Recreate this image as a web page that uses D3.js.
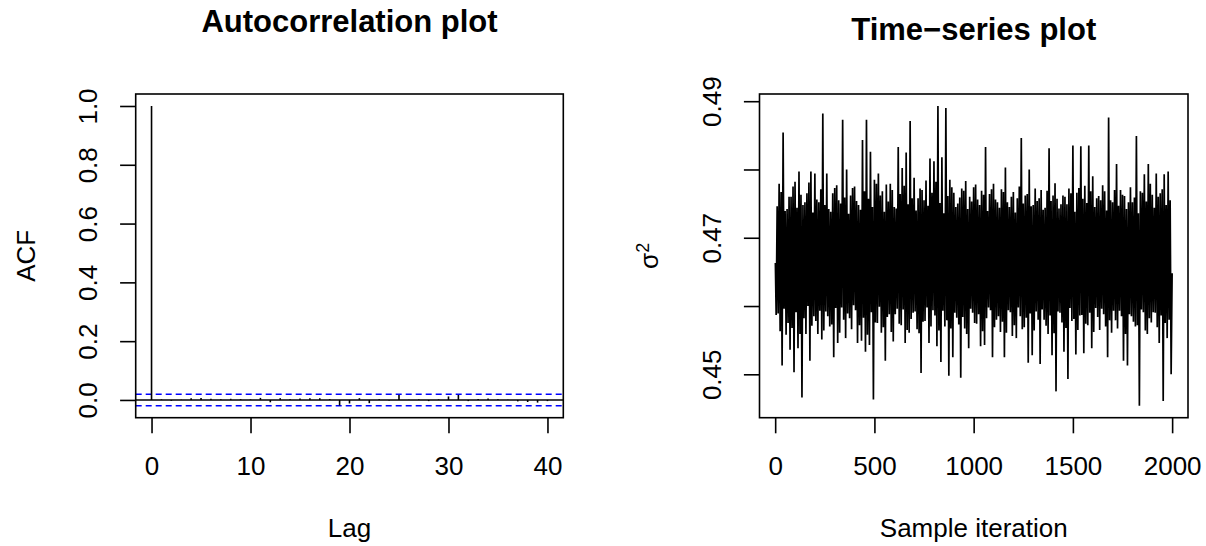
<!DOCTYPE html>
<html><head><meta charset="utf-8">
<script src="https://cdn.jsdelivr.net/npm/d3@7"></script>
<style>
body{margin:0;background:#fff}
svg{display:block;background:#fff}
text{font-family:"Liberation Sans",Arial,Helvetica,sans-serif;fill:#000}
</style>
</head><body>
<svg id="chart" width="1206" height="546"></svg>
<script>
// ---------------- data ----------------
const acfValues = [1.000,
  0.002,-0.003,0.001,0.006,0.007,0.004,0.002,0.004,0.003,0.002,
  0.007,-0.008,0.006,0.002,0.005,0.006,0.006,0.003,-0.019,-0.012,
  0.006,-0.011,0.002,-0.002,0.017,0.001,0.002,-0.004,0.002,0.012,
  0.017,-0.004,0.003,0.005,0.002,0.001,-0.005,-0.007,-0.009,-0.004];
const acfConfLimit = 0.0196;
const acfXTicks = [0, 10, 20, 30, 40];
const acfYTicks = [0, 0.2, 0.4, 0.6, 0.8, 1.0];
const acfYTickLabels = ["0.0", "0.2", "0.4", "0.6", "0.8", "1.0"];

// trace readings: turning points read every 10 iterations (spikes included)
const traceTurns = [
0.4663,0.4589,0.4779,0.4513,0.4854,0.4558,0.4742,0.4536,0.4760,0.4503,
0.4782,0.4538,0.4797,0.4466,0.4748,0.4559,0.4765,0.4520,0.4797,0.4585,
0.4794,0.4559,0.4752,0.4551,0.4882,0.4592,0.4794,0.4570,0.4738,0.4525,
0.4773,0.4546,0.4755,0.4598,0.4873,0.4553,0.4800,0.4582,0.4762,0.4601,
0.4775,0.4546,0.4748,0.4549,0.4843,0.4533,0.4873,0.4543,0.4826,0.4463,
0.4785,0.4575,0.4794,0.4561,0.4768,0.4520,0.4778,0.4588,0.4779,0.4548,
0.4745,0.4596,0.4833,0.4572,0.4802,0.4546,0.4825,0.4561,0.4871,0.4590,
0.4788,0.4566,0.4758,0.4502,0.4770,0.4578,0.4784,0.4546,0.4816,0.4594,
0.4812,0.4541,0.4893,0.4518,0.4818,0.4570,0.4890,0.4498,0.4785,0.4525,
0.4766,0.4583,0.4750,0.4495,0.4772,0.4567,0.4783,0.4538,0.4760,0.4590,
0.4774,0.4574,0.4756,0.4541,0.4769,0.4543,0.4833,0.4598,0.4764,0.4525,
0.4779,0.4580,0.4752,0.4562,0.4771,0.4525,0.4803,0.4594,0.4745,0.4556,
0.4767,0.4553,0.4758,0.4585,0.4846,0.4569,0.4762,0.4517,0.4800,0.4528,
0.4748,0.4592,0.4754,0.4515,0.4770,0.4580,0.4744,0.4559,0.4831,0.4528,
0.4762,0.4475,0.4757,0.4590,0.4749,0.4533,0.4760,0.4493,0.4772,0.4578,
0.4835,0.4529,0.4766,0.4586,0.4834,0.4531,0.4776,0.4572,0.4835,0.4538,
0.4790,0.4597,0.4758,0.4565,0.4755,0.4588,0.4768,0.4525,0.4876,0.4561,
0.4752,0.4579,0.4808,0.4593,0.4770,0.4520,0.4761,0.4513,0.4752,0.4585,
0.4752,0.4570,0.4849,0.4454,0.4768,0.4591,0.4793,0.4559,0.4808,0.4576,
0.4763,0.4590,0.4794,0.4546,0.4765,0.4461,0.4793,0.4553,0.4797,0.4500,
0.4648];
// in-band readings between turning points (lower side, then upper side)
const traceBandLo = [
0.4587,0.4563,0.4596,0.4575,0.4568,0.4591,0.4559,0.4582,0.4600,0.4571,
0.4578,0.4593,0.4564,0.4585,0.4573,0.4597,0.4561,0.4580,0.4589,0.4566,
0.4594,0.4572,0.4583,0.4558,0.4591,0.4576,0.4599,0.4569,0.4584,0.4562,
0.4588,0.4574,0.4595,0.4565,0.4581,0.4592,0.4560,0.4577,0.4598,0.4570,
0.4586,0.4564,0.4593,0.4579,0.4567,0.4590,0.4573,0.4584,0.4559,0.4596,
0.4575,0.4588,0.4563,0.4582,0.4594,0.4569,0.4585,0.4577,0.4561,0.4591,
0.4572,0.4598,0.4566,0.4583,0.4589,0.4564,0.4580,0.4595,0.4571,0.4586,
0.4560,0.4592,0.4576,0.4568,0.4597,0.4581,0.4565,0.4587,0.4574,0.4590,
0.4562,0.4584,0.4596,0.4570,0.4579,0.4593,0.4567,0.4585,0.4559,0.4588,
0.4577,0.4572,0.4595,0.4564,0.4582,0.4591,0.4569,0.4586,0.4575,0.4580];
const traceBandHi = [
0.4746,0.4767,0.4739,0.4760,0.4775,0.4744,0.4763,0.4752,0.4781,0.4737,
0.4756,0.4771,0.4748,0.4742,0.4765,0.4777,0.4750,0.4759,0.4735,0.4773,
0.4754,0.4741,0.4768,0.4757,0.4745,0.4779,0.4762,0.4738,0.4753,0.4770,
0.4743,0.4764,0.4776,0.4749,0.4758,0.4740,0.4772,0.4755,0.4747,0.4766,
0.4782,0.4751,0.4736,0.4761,0.4774,0.4745,0.4759,0.4769,0.4742,0.4753,
0.4778,0.4748,0.4763,0.4739,0.4771,0.4756,0.4744,0.4767,0.4752,0.4760,
0.4737,0.4775,0.4750,0.4764,0.4746,0.4772,0.4758,0.4741,0.4769,0.4754,
0.4780,0.4743,0.4762,0.4749,0.4765,0.4738,0.4773,0.4757,0.4751,0.4768,
0.4745,0.4761,0.4777,0.4740,0.4755,0.4770,0.4747,0.4763,0.4742,0.4774,
0.4759,0.4736,0.4766,0.4753,0.4779,0.4744,0.4760,0.4771,0.4748,0.4755];
const traceBlock = 20;  // iterations covered by one group of four readings
const tsXTicks = [0, 500, 1000, 1500, 2000];
const tsYTicks = [0.45, 0.46, 0.47, 0.48, 0.49];
const tsYTickLabels = ["0.45", "", "0.47", "", "0.49"];

const titles = ["Autocorrelation plot", "Time\u2212series plot"];
const xTitles = ["Lag", "Sample iteration"];

// ---------------- layout ----------------
const FS = 26, TFS = 31, LW = 1.6, TICK = 15.6;
const boxA = {l: 135.7, r: 563.3, t: 94, b: 417.7};
const boxB = {l: 759.5, r: 1188, t: 94, b: 417.7};

const svg = d3.select("#chart");
svg.append("rect").attr("width", 1206).attr("height", 546).attr("fill", "#fff");

function pad(ext) { const d = (ext[1] - ext[0]) * 0.04; return [ext[0] - d, ext[1] + d]; }

// ---------- panel A: ACF ----------
const lags = acfValues.map((v, i) => i);
const xA = d3.scaleLinear().domain(pad(d3.extent(lags))).range([boxA.l, boxA.r]);
const yA = d3.scaleLinear()
  .domain(pad([Math.min(-acfConfLimit, d3.min(acfValues)), Math.max(acfConfLimit, d3.max(acfValues))]))
  .range([boxA.b, boxA.t]);

const gA = svg.append("g");
gA.append("line").attr("x1", boxA.l).attr("x2", boxA.r)
  .attr("y1", yA(0)).attr("y2", yA(0)).attr("stroke", "#000").attr("stroke-width", LW);
[acfConfLimit, -acfConfLimit].forEach(c => {
  gA.append("line").attr("x1", boxA.l).attr("x2", boxA.r)
    .attr("y1", yA(c)).attr("y2", yA(c))
    .attr("stroke", "#0000ff").attr("stroke-width", LW).attr("stroke-dasharray", "6,4");
});
gA.selectAll("line.spike").data(acfValues).join("line").attr("class", "spike")
  .attr("x1", (d, i) => xA(lags[i])).attr("x2", (d, i) => xA(lags[i]))
  .attr("y1", yA(0)).attr("y2", d => yA(d))
  .attr("stroke", "#000").attr("stroke-width", LW);

// ---------- panel B: trace ----------
const trace = [];
for (let k = 0; k < traceBandLo.length; k++) {
  const t0 = k * traceBlock;
  trace.push({it: Math.max(1, t0), v: traceTurns[2 * k]});
  trace.push({it: t0 + 5, v: traceBandLo[k]});
  trace.push({it: t0 + 10, v: traceBandHi[k]});
  trace.push({it: t0 + 15, v: traceTurns[2 * k + 1]});
}
trace.push({it: traceBandLo.length * traceBlock, v: traceTurns[traceTurns.length - 1]});

const xB = d3.scaleLinear().domain(pad(d3.extent(trace, d => d.it))).range([boxB.l, boxB.r]);
const yB = d3.scaleLinear().domain(pad(d3.extent(trace, d => d.v))).range([boxB.b, boxB.t]);
const line = d3.line().x(d => xB(d.it)).y(d => yB(d.v));
svg.append("path").datum(trace).attr("d", line)
  .attr("fill", "none").attr("stroke", "#000").attr("stroke-width", 1.7)
  .attr("stroke-linejoin", "miter").attr("stroke-miterlimit", 10);

// ---------- boxes, axes, text ----------
function drawPanel(box, x, y, xTicks, yTicks, yLabels, title, titleBase, xTitle) {
  const g = svg.append("g");
  g.append("rect").attr("x", box.l).attr("y", box.t)
    .attr("width", box.r - box.l).attr("height", box.b - box.t)
    .attr("fill", "none").attr("stroke", "#000").attr("stroke-width", LW);

  const ax = g.append("g").attr("transform", `translate(0,${box.b})`)
    .call(d3.axisBottom(x).tickValues(xTicks).tickSize(TICK).tickSizeOuter(0).tickFormat(d3.format("d")));
  ax.select(".domain").remove();
  ax.selectAll(".tick line").attr("stroke", "#000").attr("stroke-width", LW);
  ax.selectAll(".tick text").attr("y", 57.3).attr("dy", null)
    .attr("font-size", FS).attr("font-family", null).attr("fill", "#000");

  const ay = g.append("g").attr("transform", `translate(${box.l},0)`)
    .call(d3.axisLeft(y).tickValues(yTicks).tickSize(TICK).tickSizeOuter(0)
      .tickFormat((d, i) => yLabels[i]));
  ay.select(".domain").remove();
  ay.selectAll(".tick line").attr("stroke", "#000").attr("stroke-width", LW);
  ay.selectAll(".tick text").attr("x", null).attr("dy", null)
    .attr("text-anchor", "middle").attr("transform", "translate(-38.7,0) rotate(-90)")
    .attr("font-size", FS).attr("font-family", null).attr("fill", "#000");

  const cx = (box.l + box.r) / 2;
  g.append("text").attr("x", cx).attr("y", titleBase).attr("text-anchor", "middle")
    .attr("font-size", TFS).attr("font-weight", "bold").text(title);
  g.append("text").attr("x", cx).attr("y", 537).attr("text-anchor", "middle")
    .attr("font-size", FS).text(xTitle);
  return g;
}
const pA = drawPanel(boxA, xA, yA, acfXTicks, acfYTicks, acfYTickLabels, titles[0], 32, xTitles[0]);
const pB = drawPanel(boxB, xB, yB, tsXTicks, tsYTicks, tsYTickLabels, titles[1], 39.5, xTitles[1]);

const cyA = (boxA.t + boxA.b) / 2;
pA.append("text").attr("transform", `translate(${boxA.l - 101.1},${cyA}) rotate(-90)`)
  .attr("text-anchor", "middle").attr("font-size", FS).text("ACF");

const cyB = (boxB.t + boxB.b) / 2;
const sig = pB.append("text").attr("transform", `translate(${boxB.l - 101.1},${cyB}) rotate(-90)`)
  .attr("text-anchor", "middle").attr("font-size", FS);
sig.append("tspan").text("\u03c3");
sig.append("tspan").attr("dy", -9).attr("font-size", 18).text("2");
</script>
</body></html>
